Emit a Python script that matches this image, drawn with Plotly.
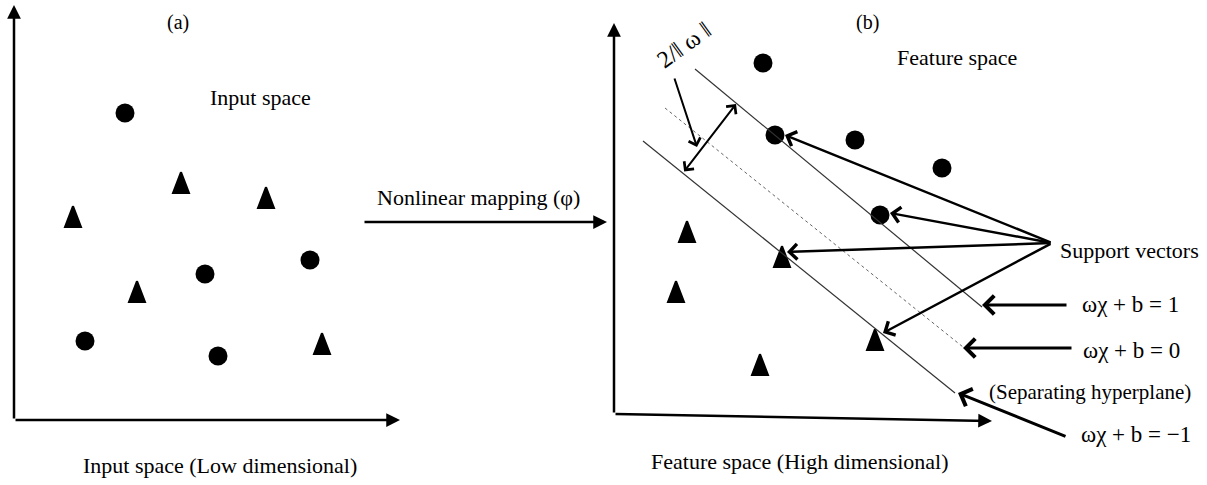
import plotly.graph_objects as go

W, H = 1207, 485
FONT = "Liberation Serif"

# ---- data (pixel-space diagram coordinates) ----
left_circle_x = [125, 205, 310, 85, 218]
left_circle_y = [113, 274, 260, 341, 356]
left_tri_x = [181, 266, 73, 137, 322]
left_tri_y = [183, 198, 217, 292, 344]

right_circle_x = [763, 775, 855, 942, 880]
right_circle_y = [63, 135, 140, 168, 215]
right_tri_x = [687, 782, 676, 875, 760]
right_tri_y = [232, 257, 292, 340, 365]

# hyperplanes: [start, end]
plane_pos_x = [695, 982]
plane_pos_y = [69, 307]
plane_zero_x = [665, 963]
plane_zero_y = [108, 347]
plane_neg_x = [643, 955]
plane_neg_y = [141, 393]

# support-vector arrows (from common origin to targets)
sv_origin = (1052, 243)
sv_target_x = [785, 890, 787, 883]
sv_target_y = [135, 213, 252, 333]

eq_labels = ["ωχ + b = 1", "ωχ + b = 0", "ωχ + b = −1"]

fig = go.Figure()

def tri_path(xs, ys):
    px, py = [], []
    for cx, cy in zip(xs, ys):
        px += [cx, cx + 8, cx - 8, cx, None]
        py += [cy - 11, cy + 10, cy + 10, cy - 11, None]
    return px, py

for cx, cy in [(left_circle_x, left_circle_y), (right_circle_x, right_circle_y)]:
    fig.add_trace(go.Scatter(x=cx, y=cy, mode="markers",
                             marker=dict(symbol="circle", size=19, color="black"),
                             hoverinfo="skip"))

for tx, ty in [(left_tri_x, left_tri_y), (right_tri_x, right_tri_y)]:
    px, py = tri_path(tx, ty)
    fig.add_trace(go.Scatter(x=px, y=py, mode="lines", fill="toself",
                             fillcolor="black", line=dict(color="black", width=2),
                             hoverinfo="skip"))

fig.add_trace(go.Scatter(x=plane_pos_x, y=plane_pos_y, mode="lines",
                         line=dict(color="#333", width=1.2), hoverinfo="skip"))
fig.add_trace(go.Scatter(x=plane_neg_x, y=plane_neg_y, mode="lines",
                         line=dict(color="#333", width=1.2), hoverinfo="skip"))
fig.add_trace(go.Scatter(x=plane_zero_x, y=plane_zero_y, mode="lines",
                         line=dict(color="#666", width=1, dash="dot"), hoverinfo="skip"))

def arrow(x0, y0, x1, y1, head=2, width=2.5, size=1.1, both=False):
    d = dict(x=x1, y=y1, ax=x0, ay=y0, xref="x", yref="y", axref="x", ayref="y",
             text="", showarrow=True, arrowhead=head, arrowwidth=width,
             arrowsize=size, arrowcolor="black", standoff=0, startstandoff=0)
    if both:
        d.update(arrowside="end+start", startarrowhead=head, startarrowsize=size)
    fig.add_annotation(**d)

# axes
arrow(14, 420, 14, 5)
arrow(14, 420, 400, 420)
arrow(614, 414, 614, 23)
arrow(614, 414, 992, 421)
# mapping arrow
arrow(363, 222, 607, 222)
# margin double arrow and its pointer
arrow(683, 173, 736, 104, head=4, width=2, size=1.2, both=True)
arrow(674, 77, 697, 147, head=4, width=2, size=1.2)
# support vector arrows
for tx, ty in zip(sv_target_x, sv_target_y):
    arrow(sv_origin[0], sv_origin[1], tx, ty, head=4, width=2.5, size=1.2)
# equation arrows
arrow(1068, 305, 982, 305, head=4, width=3, size=1.2)
arrow(1073, 348, 963, 348, head=4, width=3, size=1.2)
arrow(1067, 437, 958, 393, head=4, width=3, size=1.2)

def label(x, y, t, size=22, xanchor="center", angle=0):
    fig.add_annotation(x=x, y=y, xref="x", yref="y", text=t, showarrow=False,
                       xanchor=xanchor, yanchor="middle", textangle=angle,
                       font=dict(family=FONT, size=size, color="black"))

label(178, 22, "(a)", 20)
label(260, 97, "Input space")
label(220, 465, "Input space (Low dimensional)")
label(478, 197, "Nonlinear mapping (φ)")
label(867, 22, "(b)", 20)
label(957, 57, "Feature space")
label(800, 461, "Feature space (High dimensional)")
label(684, 45, "2/‖ ω ‖", 24, angle=-36)
label(1058, 250, "Support vectors", xanchor="left")
label(1130, 304, eq_labels[0], 23)
label(1131, 350, eq_labels[1], 23)
label(1090, 392, "(Separating hyperplane)", 21)
label(1136, 434, eq_labels[2], 23)

fig.update_layout(
    width=W, height=H, margin=dict(l=0, r=0, t=0, b=0),
    paper_bgcolor="white", plot_bgcolor="white", showlegend=False,
    xaxis=dict(range=[0, W], visible=False, fixedrange=True),
    yaxis=dict(range=[H, 0], visible=False, fixedrange=True),
)
fig.write_html("out.html", config={"displayModeBar": False},
               post_script="document.body.style.margin='0';document.body.style.overflow='hidden';")
